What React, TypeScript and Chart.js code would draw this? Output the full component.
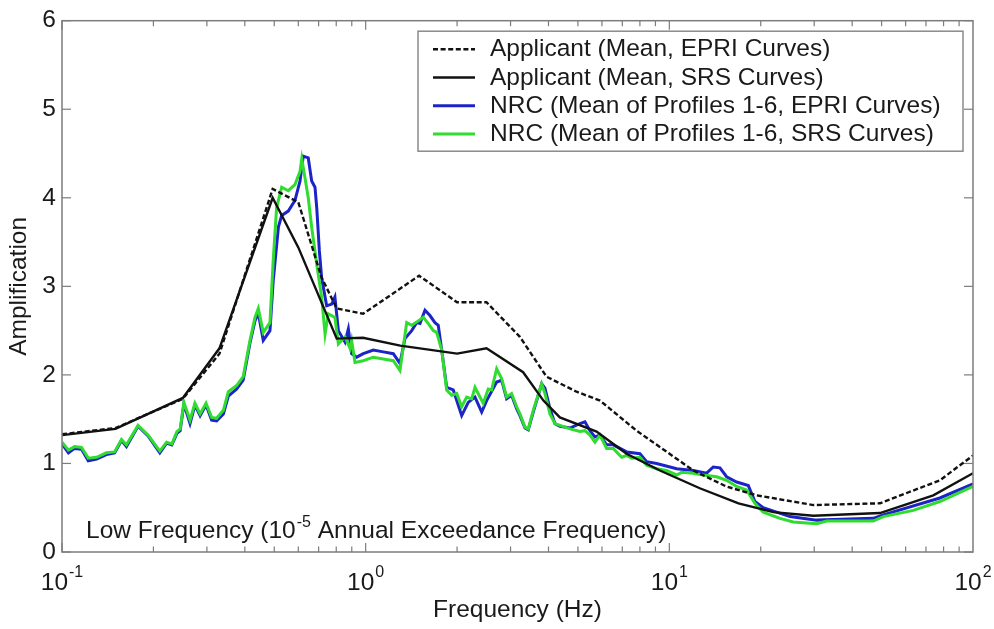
import React, { useEffect, useRef } from "react";
import { Chart, registerables } from "chart.js";

Chart.register(...registerables);

const FONT = '"Liberation Sans", Arial, Helvetica, sans-serif';
const TEXT = "#1a1a1a";

// ---- Series labels (legend order) ----
const seriesLabels = [
  "Applicant (Mean, EPRI Curves)",
  "Applicant (Mean, SRS Curves)",
  "NRC (Mean of Profiles 1-6, EPRI Curves)",
  "NRC (Mean of Profiles 1-6, SRS Curves)",
];

// ---- Axis ticks ----
const xTickValues = [0.1, 1, 10, 100];
const xTickExponents = ["-1", "0", "1", "2"];
const yTickValues = [0, 1, 2, 3, 4, 5, 6];

// ---- Applicant (Mean, EPRI Curves) ----
const appEpriFreq = [0.1, 0.15, 0.25, 0.33, 0.494, 0.6, 0.716, 0.803, 0.98, 1.5, 2.0, 2.5, 3.22, 3.94, 4.95, 5.91, 7.8, 12.0, 15.4, 19.4, 29.8, 49.4, 77.8, 100];
const appEpriAmp = [1.33, 1.4, 1.73, 2.24, 4.1, 3.95, 3.1, 2.75, 2.69, 3.12, 2.82, 2.82, 2.43, 1.98, 1.81, 1.71, 1.37, 0.92, 0.74, 0.64, 0.53, 0.55, 0.81, 1.09];

// ---- Applicant (Mean, SRS Curves) ----
const appSrsFreq = [0.1, 0.15, 0.25, 0.33, 0.494, 0.6, 0.803, 0.98, 1.3, 2.0, 2.5, 3.3, 3.85, 4.36, 5.76, 7.23, 9.31, 12.6, 16.9, 22.0, 29.8, 49.4, 74, 100];
const appSrsAmp = [1.32, 1.39, 1.74, 2.3, 4.0, 3.44, 2.41, 2.42, 2.33, 2.24, 2.3, 2.03, 1.71, 1.52, 1.36, 1.11, 0.92, 0.72, 0.55, 0.45, 0.41, 0.44, 0.64, 0.89];

// ---- NRC (Mean of Profiles 1-6, EPRI Curves) ----
const nrcEpriFreq = [
  0.1, 0.105, 0.11, 0.116, 0.122, 0.13, 0.14, 0.149, 0.157, 0.163, 0.178, 0.192, 0.21, 0.221, 0.23, 0.239, 0.245, 0.252, 0.264, 0.274, 0.285, 0.298, 0.311, 0.323, 0.34, 0.353, 0.376, 0.395,
  0.416, 0.432, 0.443, 0.46, 0.484, 0.496, 0.516, 0.529, 0.556, 0.585, 0.608, 0.623, 0.647, 0.664, 0.681, 0.69, 0.704, 0.716, 0.744, 0.773, 0.792, 0.813, 0.855, 0.877, 0.899,
  0.934, 0.982, 1.059, 1.143, 1.233, 1.297, 1.347, 1.418, 1.472, 1.51, 1.568, 1.628, 1.691, 1.734, 1.78, 1.848, 1.943, 2.071, 2.177, 2.291, 2.41, 2.503, 2.7, 2.804, 2.912,
  3.024, 3.141, 3.222, 3.346, 3.431, 3.563, 3.798, 3.894, 4.044, 4.201, 4.363, 4.707, 5.077, 5.273, 5.477, 5.689, 5.91, 6.216, 6.536, 7.235, 8.002, 8.42, 9.082, 10.57, 11.99,
  13.27, 13.95, 14.68, 15.44, 16.66, 18.2, 19.13, 20.38, 24.96, 30.55, 46.94, 50.63, 77.8, 100,
];
const nrcEpriAmp = [
  1.22, 1.12, 1.17, 1.16, 1.03, 1.05, 1.1, 1.12, 1.26, 1.19, 1.42, 1.31, 1.12, 1.23, 1.21, 1.34, 1.37, 1.67, 1.45, 1.66, 1.54, 1.66, 1.49, 1.48, 1.56, 1.76, 1.84, 1.94,
  2.36, 2.61, 2.7, 2.39, 2.5, 3.06, 3.67, 3.8, 3.85, 3.97, 4.19, 4.47, 4.45, 4.19, 4.12, 3.89, 3.4, 3.1, 2.78, 2.8, 2.88, 2.5, 2.37, 2.52, 2.24,
  2.2, 2.24, 2.28, 2.26, 2.24, 2.13, 2.41, 2.5, 2.59, 2.58, 2.73, 2.67, 2.59, 2.56, 2.28, 1.86, 1.83, 1.54, 1.69, 1.75, 1.58, 1.71, 1.92, 1.94, 1.73,
  1.77, 1.62, 1.54, 1.4, 1.38, 1.58, 1.9, 1.85, 1.62, 1.45, 1.42, 1.4, 1.45, 1.47, 1.37, 1.3, 1.32, 1.21, 1.21, 1.13, 1.11, 1.02, 1.0, 0.94, 0.92,
  0.89, 0.96, 0.95, 0.85, 0.79, 0.75, 0.57, 0.5, 0.4, 0.36, 0.38, 0.42, 0.61, 0.77,
];

// ---- NRC (Mean of Profiles 1-6, SRS Curves) ----
const nrcSrsFreq = [
  0.1, 0.105, 0.11, 0.116, 0.122, 0.13, 0.14, 0.149, 0.157, 0.163, 0.178, 0.192, 0.21, 0.221, 0.23, 0.239, 0.245, 0.252, 0.264, 0.274, 0.285, 0.298, 0.311, 0.323, 0.34, 0.353, 0.376, 0.395,
  0.416, 0.432, 0.443, 0.46, 0.484, 0.496, 0.509, 0.529, 0.556, 0.585, 0.608, 0.616, 0.631, 0.647, 0.664, 0.69, 0.716, 0.735, 0.753, 0.792, 0.813, 0.855, 0.888, 0.899, 0.922,
  0.982, 1.059, 1.143, 1.233, 1.297, 1.365, 1.418, 1.491, 1.548, 1.608, 1.67, 1.713, 1.78, 1.848, 1.92, 1.994, 2.071, 2.151, 2.234, 2.291, 2.379, 2.439, 2.533, 2.599, 2.7, 2.804, 2.912,
  3.024, 3.141, 3.222, 3.346, 3.431, 3.563, 3.798, 3.894, 4.044, 4.201, 4.363,
  4.707, 5.077, 5.273, 5.477, 5.689, 5.91, 6.216, 6.536, 6.966, 7.235, 7.514, 8.002, 8.42, 9.082, 9.797, 10.57, 10.98, 11.99, 12.93, 14.32, 15.44, 16.66, 17.97,
  19.13, 20.38, 23.13, 25.59, 30.55, 32.96, 46.94, 50.63, 63.55, 77.8, 100,
];
const nrcSrsAmp = [
  1.24, 1.15, 1.19, 1.18, 1.06, 1.07, 1.12, 1.13, 1.27, 1.21, 1.43, 1.32, 1.14, 1.24, 1.22, 1.36, 1.39, 1.69, 1.49, 1.68, 1.56, 1.68, 1.52, 1.51, 1.6, 1.81, 1.88, 1.98,
  2.39, 2.65, 2.75, 2.48, 2.59, 3.29, 3.89, 4.12, 4.08, 4.15, 4.3, 4.44, 4.23, 4.0, 3.67, 3.25, 2.88, 2.46, 2.69, 2.65, 2.35, 2.43, 2.3, 2.39, 2.14,
  2.16, 2.2, 2.18, 2.16, 2.05, 2.59, 2.56, 2.61, 2.65, 2.58, 2.5, 2.48, 2.28, 1.83, 1.77, 1.79, 1.64, 1.75, 1.73, 1.86, 1.75, 1.68, 1.84, 1.83, 2.07, 1.96, 1.75,
  1.79, 1.64, 1.56, 1.41, 1.39, 1.6, 1.9, 1.79, 1.56, 1.45, 1.43,
  1.39, 1.36, 1.37, 1.32, 1.24, 1.32, 1.17, 1.17, 1.07, 1.09, 1.06, 1.07, 0.98, 0.94, 0.92, 0.87, 0.9, 0.89, 0.87, 0.85, 0.81, 0.74, 0.7,
  0.55, 0.45, 0.38, 0.34, 0.32, 0.35, 0.35, 0.4, 0.47, 0.57, 0.74,
];

const seriesColors = ["#111111", "#111111", "#1c24c8", "#2fdc2f"];
const seriesWidths = [2.4, 2.4, 3, 3];
const seriesDashes: number[][] = [[5, 2.6], [], [], []];

const toPoints = (fs: number[], as: number[]) => fs.map((f, i) => ({ x: f, y: as[i] }));

const decorPlugin = {
  id: "decor",
  afterDraw(chart: any) {
    const { ctx, chartArea: ca, scales } = chart;
    const xs = scales.x;
    const ys = scales.y;
    ctx.save();
    const line = (x1: number, y1: number, x2: number, y2: number) => {
      ctx.beginPath();
      ctx.moveTo(x1, y1);
      ctx.lineTo(x2, y2);
      ctx.stroke();
    };
    // axes box
    ctx.strokeStyle = "#7c7c7c";
    ctx.lineWidth = 1.5;
    ctx.setLineDash([]);
    ctx.strokeRect(ca.left, ca.top, ca.right - ca.left, ca.bottom - ca.top);
    // x tick marks (inward, top and bottom)
    ctx.lineWidth = 1.2;
    for (let e = -1; e <= 1; e++) {
      for (let k = 1; k <= 9; k++) {
        const v = k * Math.pow(10, e);
        const px = xs.getPixelForValue(v);
        const len = k === 1 ? 9 : 5.5;
        line(px, ca.bottom, px, ca.bottom - len);
        line(px, ca.top, px, ca.top + len);
      }
    }
    // y tick marks (inward, left and right)
    for (const v of yTickValues) {
      const py = ys.getPixelForValue(v);
      line(ca.left, py, ca.left + 9, py);
      line(ca.right, py, ca.right - 9, py);
    }
    // x tick labels with superscripts
    ctx.fillStyle = TEXT;
    ctx.textBaseline = "alphabetic";
    ctx.textAlign = "left";
    const big = `24.5px ${FONT}`;
    const small = `16px ${FONT}`;
    xTickValues.forEach((v, i) => {
      const px = xs.getPixelForValue(v);
      ctx.font = big;
      const w1 = ctx.measureText("10").width;
      ctx.font = small;
      const w2 = ctx.measureText(xTickExponents[i]).width;
      const start = px - (w1 + w2 + 1) / 2;
      ctx.font = big;
      ctx.fillText("10", start, ca.bottom + 38);
      ctx.font = small;
      ctx.fillText(xTickExponents[i], start + w1 + 1, ca.bottom + 25);
    });
    // annotation
    {
      let x = ca.left + 24;
      const base = ca.bottom - 14;
      ctx.font = big;
      const a = "Low Frequency (10";
      ctx.fillText(a, x, base);
      x += ctx.measureText(a).width + 1;
      ctx.font = small;
      ctx.fillText("-5", x, base - 11);
      x += ctx.measureText("-5").width;
      ctx.font = big;
      ctx.fillText(" Annual Exceedance Frequency)", x, base);
    }
    // legend
    {
      const bx = 418;
      const by = ca.top + 10.5;
      const bw = ca.right - 10 - bx;
      const bh = 120;
      ctx.fillStyle = "#ffffff";
      ctx.fillRect(bx, by, bw, bh);
      ctx.strokeStyle = "#8a8a8a";
      ctx.lineWidth = 1.5;
      ctx.strokeRect(bx, by, bw, bh);
      seriesLabels.forEach((lab, i) => {
        const base = by + 25 + i * 28.3;
        const ly = base - 7;
        ctx.strokeStyle = seriesColors[i];
        ctx.lineWidth = seriesWidths[i];
        ctx.setLineDash(seriesDashes[i]);
        line(bx + 15, ly, bx + 57, ly);
        ctx.setLineDash([]);
        ctx.fillStyle = TEXT;
        ctx.font = big;
        ctx.fillText(lab, bx + 72, base);
      });
    }
    ctx.restore();
  },
};

export default function App() {
  const ref = useRef<HTMLCanvasElement | null>(null);
  useEffect(() => {
    if (!ref.current) return;
    const series = [
      { f: appEpriFreq, a: appEpriAmp },
      { f: appSrsFreq, a: appSrsAmp },
      { f: nrcEpriFreq, a: nrcEpriAmp },
      { f: nrcSrsFreq, a: nrcSrsAmp },
    ];
    const drawOrder = [0, 1, 3, 2]; // dashed on top, blue at bottom
    const datasets = series.map((s, i) => ({
      label: seriesLabels[i],
      data: toPoints(s.f, s.a),
      borderColor: seriesColors[i],
      backgroundColor: seriesColors[i],
      borderWidth: seriesWidths[i],
      borderDash: seriesDashes[i],
      pointRadius: 0,
      tension: 0,
      fill: false,
      order: drawOrder[i],
    }));
    const chart = new Chart(ref.current, {
      type: "line",
      data: { datasets },
      options: {
        animation: false,
        responsive: false,
        devicePixelRatio: 1,
        layout: { padding: { left: 0, right: 21, top: 19.5, bottom: 0 } },
        plugins: { legend: { display: false }, tooltip: { enabled: false } },
        scales: {
          x: {
            type: "logarithmic",
            min: 0.1,
            max: 100,
            grid: { display: false, drawTicks: false },
            border: { display: false },
            ticks: { display: false },
            title: {
              display: true,
              text: "Frequency (Hz)",
              color: TEXT,
              font: { family: FONT, size: 24.5 },
              padding: { top: 0, bottom: 4.3 },
            },
            afterFit: (axis: any) => {
              axis.height = 77;
            },
          },
          y: {
            type: "linear",
            min: 0,
            max: 6,
            grid: { display: false, drawTicks: false },
            border: { display: false },
            ticks: {
              stepSize: 1,
              color: TEXT,
              padding: 6,
              font: { family: FONT, size: 24.5 },
            },
            title: {
              display: true,
              text: "Amplification",
              color: TEXT,
              font: { family: FONT, size: 24.5 },
              padding: { top: 4.3, bottom: 0 },
            },
            afterFit: (axis: any) => {
              axis.width = 62;
            },
          },
        },
      },
      plugins: [decorPlugin],
    } as any);
    return () => chart.destroy();
  }, []);
  return (
    <div style={{ position: "fixed", left: 0, top: 0, width: 994, height: 629, background: "#ffffff" }}>
      <canvas ref={ref} width={994} height={629} style={{ display: "block" }} />
    </div>
  );
}
